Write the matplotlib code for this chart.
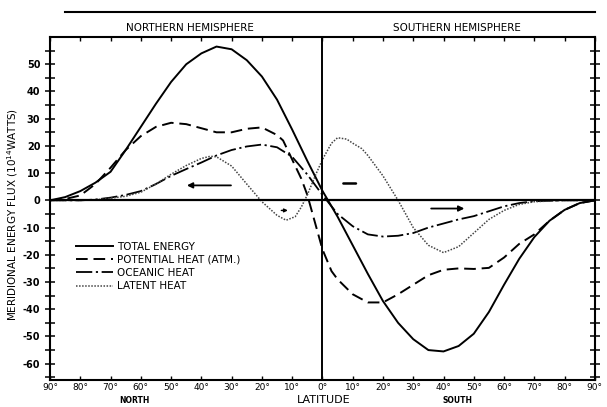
import numpy as np
import matplotlib
matplotlib.use("Agg")
import matplotlib.pyplot as plt
from matplotlib.lines import Line2D

# latitude: north positive, south negative
lat_total = [90, 85, 80, 75, 70, 65, 60, 55, 50, 45, 40, 35, 30, 25, 20, 15, 10, 5, 0,
             -5, -10, -15, -20, -25, -30, -35, -40, -45, -50, -55, -60, -65, -70, -75, -80, -85, -90]
total_energy = [0, 1.2, 3.4, 6.5, 10.5, 18.5, 27, 35.5, 43.5, 50, 54, 56.5, 55.5, 51.5, 45.5, 37, 26, 14.5, 3.5,
                -6, -16.5, -27, -37, -45, -51, -55, -55.5, -53.5, -49, -41, -31, -21.5, -13.5, -7.5, -3.5, -1, 0]

lat_pot = [90, 85, 80, 75, 70, 65, 60, 55, 50, 45, 40, 35, 30, 25, 20, 15, 13, 10, 7, 5, 3, 0,
           -3, -5, -10, -15, -20, -25, -30, -35, -40, -45, -50, -55, -60, -65, -70, -75, -80, -85, -90]
potential_heat = [0, 0.5, 1.8, 6, 12, 18.5, 23.6, 27, 28.5, 28, 26.5, 25, 25, 26.3, 26.8, 24, 22, 15, 8, 2, -6, -18,
                  -26, -29, -34.5, -37.5, -37.5, -34.5, -31, -27.5, -25.5, -25, -25.2, -24.8, -21, -16, -12.5,
                  -7.5, -3.5, -1, 0]

lat_ocean = [90, 80, 75, 70, 65, 60, 55, 50, 45, 40, 35, 30, 25, 20, 15, 10, 5, 0,
             -5, -10, -15, -20, -25, -30, -35, -40, -45, -50, -55, -60, -65, -70, -80, -90]
oceanic_heat = [0, 0, 0.3, 1, 2, 3.4, 6, 9, 11.5, 13.9, 16.5, 18.5, 19.8, 20.5, 19.5, 16, 9.5, 2,
                -5, -9.5, -12.5, -13.3, -13, -12, -10, -8.5, -7, -5.8, -4, -2.2, -1, -0.3, 0, 0]

lat_latent = [90, 80, 75, 70, 65, 60, 55, 50, 45, 40, 37, 35, 30, 25, 20, 15, 12, 9, 7, 5, 2, 0,
              -3, -5, -8, -10, -13, -15, -20, -25, -30, -35, -40, -45, -50, -55, -60, -65, -70, -80, -90]
latent_heat = [0, 0, 0.2, 0.8, 1.5, 3, 6, 9.6, 12.8, 15.4, 16.2, 16, 12.6, 6, -0.5, -5.5, -7.3, -6, -2.5, 2, 10, 15,
               21, 23, 22.5, 21, 19, 16.5, 9, 0, -10, -16.5, -19.2, -17, -12, -7, -3.7, -1.5, -0.5, 0, 0]

x_ticks = list(range(90, -91, -10))
x_labels = ["%d°" % abs(t) for t in x_ticks]
y_ticks = list(range(-60, 51, 10))


def main():
    fig = plt.figure(figsize=(6.07, 4.07), dpi=100)
    ax = fig.add_axes([0.0824, 0.0663, 0.8976, 0.8427])

    ax.plot(lat_total, total_energy, color="black", lw=1.4, label="TOTAL ENERGY")
    ax.plot(lat_pot, potential_heat, color="black", lw=1.4, linestyle=(0, (6, 3)),
            label="POTENTIAL HEAT (ATM.)")
    ax.plot(lat_ocean, oceanic_heat, color="black", lw=1.3, linestyle=(0, (9, 2, 1.2, 2)),
            label="OCEANIC HEAT")
    ax.plot(lat_latent, latent_heat, color="#444444", lw=1.1, linestyle=(0, (1, 1)),
            label="LATENT HEAT")

    # zero line and equator
    ax.axhline(0, color="black", lw=1.6)
    ax.axvline(0, color="black", lw=1.4)

    ax.set_xlim(90, -90)
    ax.set_ylim(-66, 60)

    ax.set_xticks(x_ticks)
    ax.set_xticklabels(x_labels, fontsize=6.5)
    ax.set_yticks(y_ticks)
    ax.set_yticklabels([str(t) for t in y_ticks], fontsize=7, fontweight="bold")
    ax.set_yticks(np.arange(-65, 60, 5), minor=True)
    ax.tick_params(axis="y", which="both", direction="inout", length=7, width=1.1,
                   right=True, labelright=False)
    ax.tick_params(axis="x", which="major", direction="in", length=3, width=1.0, top=True, pad=2)

    for side in ax.spines.values():
        side.set_linewidth(1.5)

    # arrows showing flux direction
    arrow = dict(arrowstyle="-|>", color="black", lw=1.3, mutation_scale=8)
    ax.annotate("", xy=(45.7, 5.5), xytext=(29.3, 5.5), arrowprops=arrow)
    ax.annotate("", xy=(10.5, -3.7), xytext=(14.5, -3.7),
                arrowprops=dict(arrowstyle="-|>", color="black", lw=1.0, mutation_scale=5))
    ax.annotate("", xy=(-6, 6.2), xytext=(-12, 6.2),
                arrowprops=dict(arrowstyle="-", color="black", lw=1.8))
    ax.annotate("", xy=(-47.8, -3), xytext=(-35, -3), arrowprops=arrow)

    ax.legend(loc="upper left", bbox_to_anchor=(0.04, 0.415), frameon=False,
              fontsize=7.5, handlelength=3.6, handletextpad=0.3, labelspacing=0.3,
              borderaxespad=0)

    # headings
    fig.add_artist(Line2D([0.107, 0.980], [0.9705, 0.9705], color="black", lw=1.5))
    fig.text(0.313, 0.931, "NORTHERN HEMISPHERE", ha="center", va="center", fontsize=7.5)
    fig.text(0.753, 0.931, "SOUTHERN HEMISPHERE", ha="center", va="center", fontsize=7.5)

    fig.text(0.02, 0.472, "MERIDIONAL ENERGY FLUX (10$^{14}$WATTS)", rotation=90,
             ha="center", va="center", fontsize=7.5)
    fig.text(0.534, 0.016, "LATITUDE", ha="center", va="center", fontsize=8)
    fig.text(0.222, 0.016, "NORTH", ha="center", va="center", fontsize=5.5, fontweight="bold")
    fig.text(0.753, 0.016, "SOUTH", ha="center", va="center", fontsize=5.5, fontweight="bold")

    fig.savefig("out.png", dpi=100)


if __name__ == "__main__":
    main()
